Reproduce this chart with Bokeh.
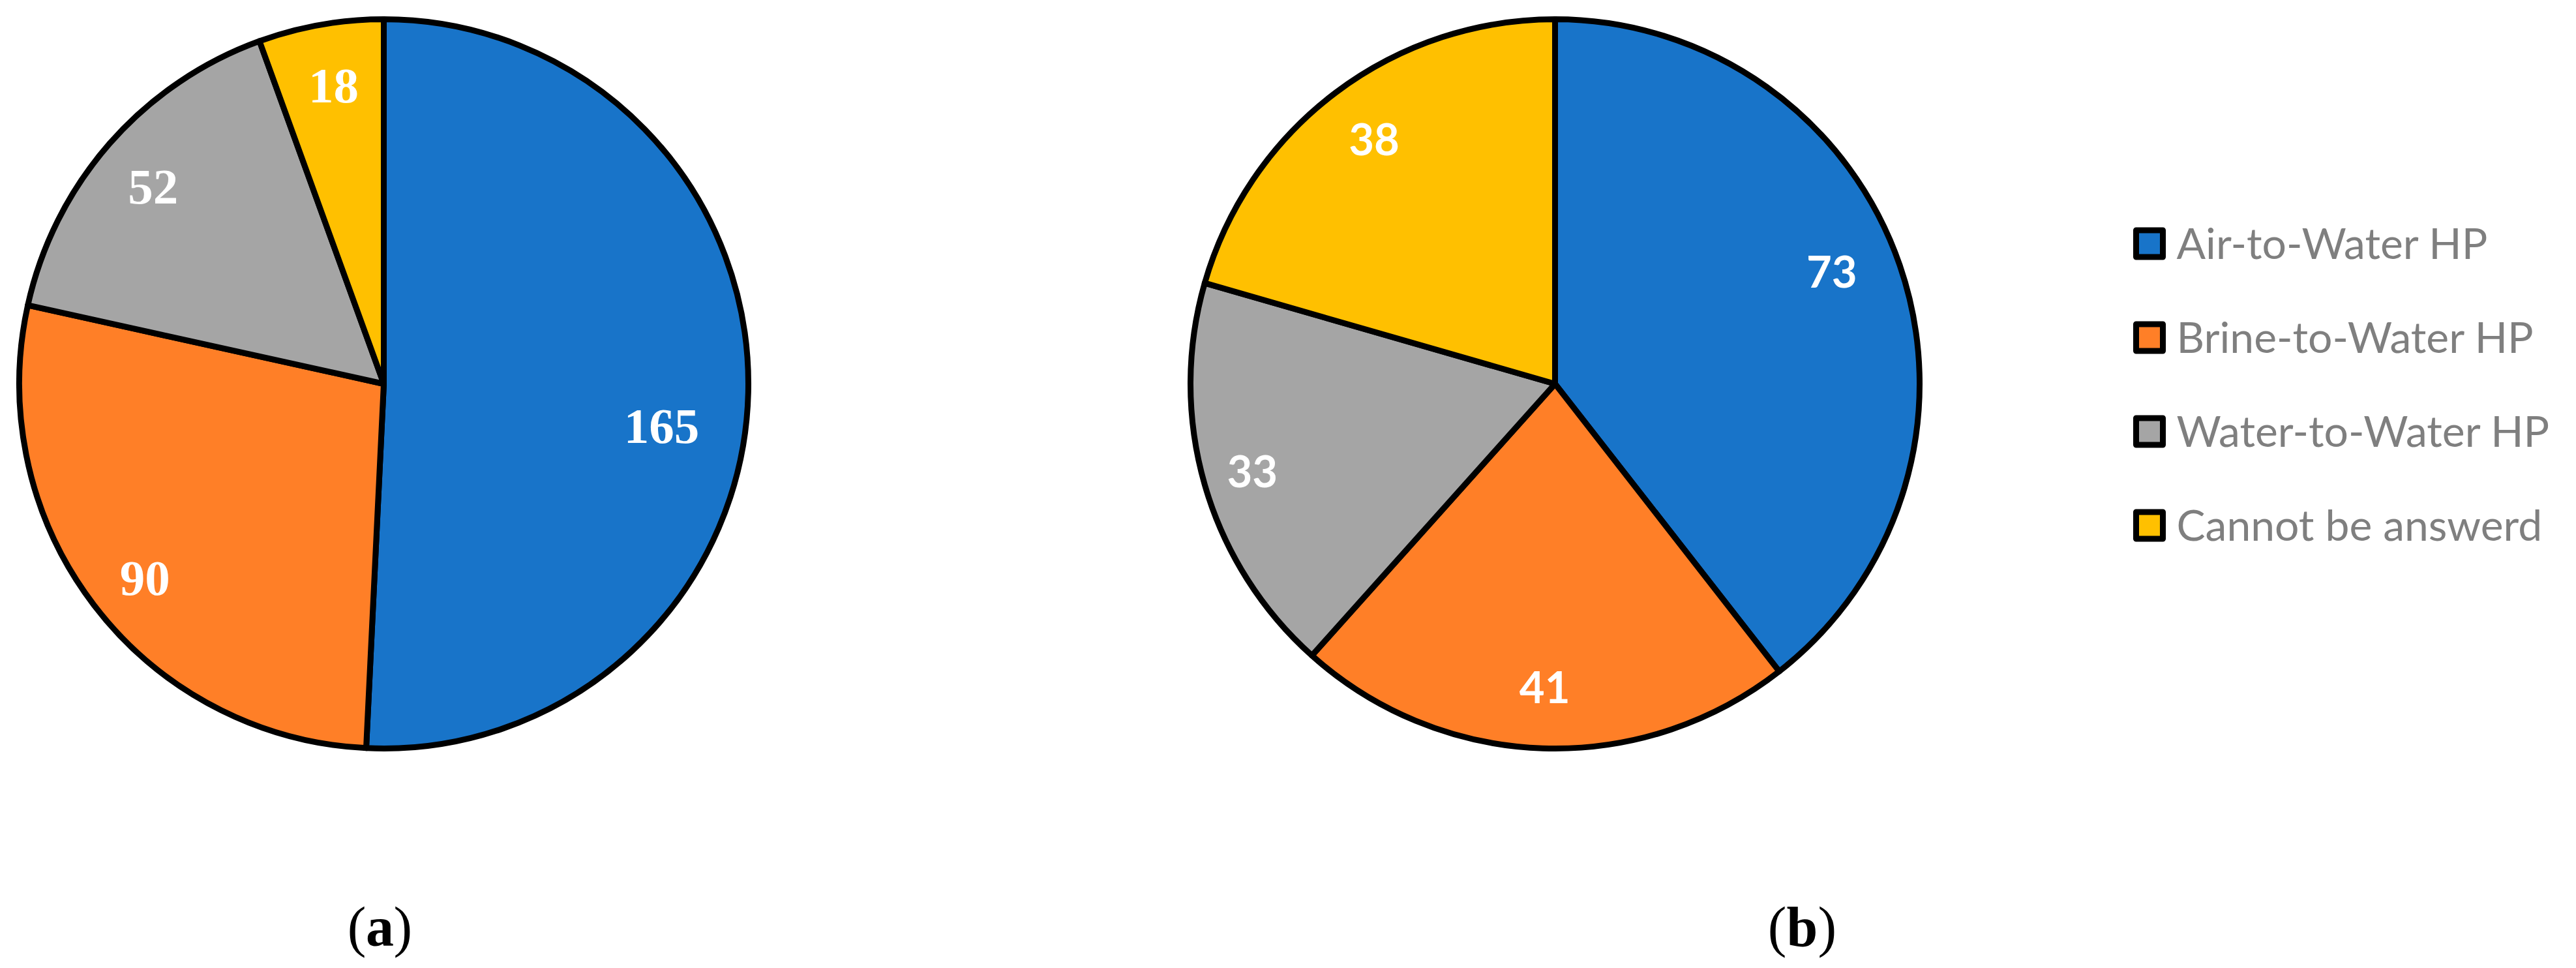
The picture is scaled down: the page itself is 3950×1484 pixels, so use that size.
import math
from bokeh.plotting import figure
from bokeh.models import ColumnDataSource, Range1d
from bokeh.core.properties import value
from bokeh.embed import file_html
from bokeh.resources import INLINE

# ---- data ----
categories = ["Air-to-Water HP", "Brine-to-Water HP", "Water-to-Water HP", "Cannot be answerd"]
values_a = [165, 90, 52, 18]
values_b = [73, 41, 33, 38]
panel_letters = ["a", "b"]

# ---- styles / layout ----
colors = ["#1874C9", "#FF7F27", "#A5A5A5", "#FFC000"]
W, H = 3946, 1480
PAGE_H = 1484
R = 559
STROKE = 9

def Y(ry):
    return PAGE_H - ry

p = figure(width=W, height=H, x_range=Range1d(0, W), y_range=Range1d(PAGE_H - H, PAGE_H),
           output_backend="svg", toolbar_location=None,
           x_axis_type=None, y_axis_type=None, min_border=0)
p.outline_line_color = None
p.xgrid.visible = False
p.ygrid.visible = False
p.background_fill_color = "white"
p.border_fill_color = "white"


def pie(cx, cy, vals, label_frac, label_dang, font, size):
    total = float(sum(vals))
    cum = 0.0
    st, en, lx, ly = [], [], [], []
    for v, f, d in zip(vals, label_frac, label_dang):
        a0 = cum / total
        a1 = (cum + v) / total
        st.append(math.pi / 2 - 2 * math.pi * a0)
        en.append(math.pi / 2 - 2 * math.pi * a1)
        mid = math.radians((a0 + a1) / 2 * 360 + d)
        lx.append(cx + f * R * math.sin(mid))
        ly.append(cy + f * R * math.cos(mid))
        cum += v
    src = ColumnDataSource(dict(x=[cx] * len(vals), y=[cy] * len(vals), s=st, e=en,
                                c=colors[:len(vals)]))
    p.wedge(x="x", y="y", radius=R, start_angle="s", end_angle="e", direction="clock",
            fill_color="c", line_color="black", line_width=STROKE, line_join="round",
            source=src)
    lsrc = ColumnDataSource(dict(x=lx, y=ly, t=[str(v) for v in vals]))
    p.text(x="x", y="y", text="t", source=lsrc, text_font=value(font),
           text_font_size=size, text_font_style="bold", text_color="white",
           text_align="center", text_baseline="middle")


pie(588, Y(588), values_a, [0.771, 0.845, 0.832, 0.829], [7.4, -1.8, -0.8, 0.4],
    "Liberation Serif", "77px")
pie(2384, Y(588), values_b, [0.819, 0.832, 0.864, 0.835], [-3.1, 0.0, 0.0, 0.5],
    "Lato", "67px")

# ---- legend ----
leg_y = [Y(373 + i * 144) for i in range(len(categories))]
p.rect(x=[3295.5] * len(categories), y=leg_y, width=41, height=41,
       fill_color=colors, line_color="black", line_width=STROKE, line_join="round")
p.text(x=[3337] * len(categories), y=[yy + 2 for yy in leg_y], text=categories,
       text_font=value("Lato"), text_font_size="66px", text_color="#7F7F7F",
       text_align="left", text_baseline="middle")

# ---- panel captions ----
cap_x = [582, 2763]
half_w = [21, 24]
for cx, hw, letter in zip(cap_x, half_w, panel_letters):
    my = Y(1420)
    p.text(x=[cx - hw], y=[my], text=["("], text_font=value("Liberation Serif"),
           text_font_size="86px", text_color="black", text_align="right",
           text_baseline="middle")
    p.text(x=[cx], y=[my], text=[letter], text_font=value("Liberation Serif"),
           text_font_size="86px", text_font_style="bold", text_color="black",
           text_align="center", text_baseline="middle")
    p.text(x=[cx + hw], y=[my], text=[")"], text_font=value("Liberation Serif"),
           text_font_size="86px", text_color="black", text_align="left",
           text_baseline="middle")

open("out.html", "w").write(file_html(p, INLINE))
